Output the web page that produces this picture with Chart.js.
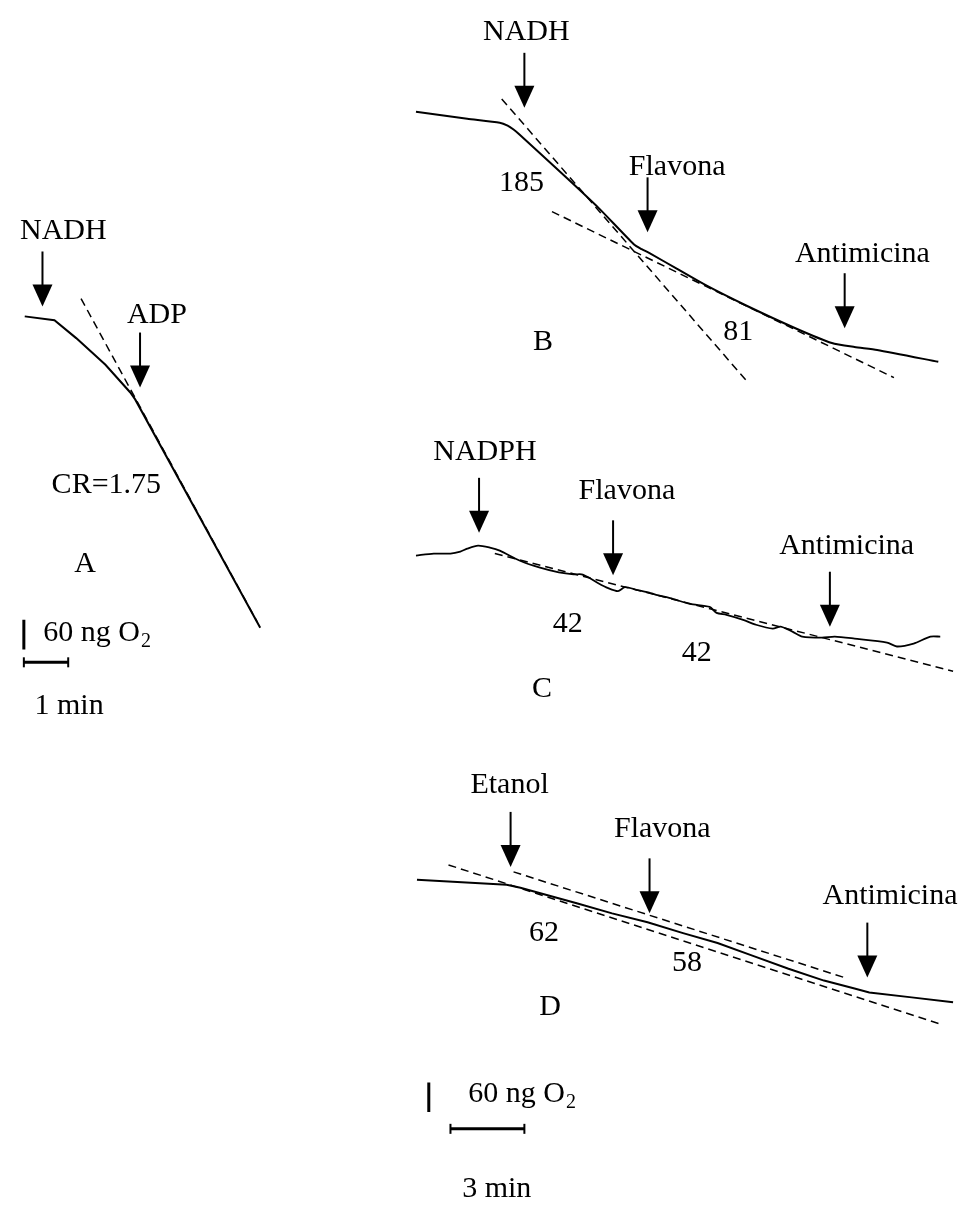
<!DOCTYPE html>
<html>
<head>
  <title>Consumo de O2 - trazos A a D</title>
  <script src="https://cdn.jsdelivr.net/npm/chart.js"></script>
  <style>
    body { margin: 0; background: #fff; overflow: hidden; }
  </style>
</head>
<body>
  <canvas id="myChart" width="965" height="1207"></canvas>

  <script>
    // All traces: [time (min), O2 level (ng O2, relative to start of trace)]

    // Panel A
    const traceA = [[0,0],[0.67,-8],[1.16,-44],[1.82,-98],[2.38,-154],[2.49,-168],[5.31,-630]];
    const dashA = [[1.27,36],[5.24,-618]];
    const arrowsA = [[0.40,20],[2.60,-144]];
    const labelsA = [['NADH',0.87,156],['ADP',2.98,-14],['CR=1.75',1.84,-358],['A',1.36,-518],['1 min',1.00,-804]];
    const barO2A = [[-0.02,-614],[-0.02,-674]];   // 60 ng O2
    const barTimeA = [[-0.02,-700],[0.98,-700]];  // 1 min

    // Panel B
    const traceB = [[0,0],[2.08,-14],[3.40,-22],[3.72,-28],[3.96,-36],[4.20,-46],[6.08,-132],[7.40,-194],
      [8.84,-268],[9.16,-278],[9.48,-286],[10.60,-318],[11.80,-352],[13.40,-392],[15.40,-438],
      [16.88,-468],[17.80,-476],[18.72,-482],[21.20,-506]];
    const dashB1 = [[3.48,26],[13.48,-548]];
    const dashB2 = [[5.52,-202],[19.40,-538]];
    const arrowsB = [[4.40,8],[9.40,-244],[17.40,-438]];
    const labelsB = [['NADH',4.48,146],['185',4.28,-160],['Flavona',10.6,-128],['Antimicina',18.12,-304],['81',13.08,-462],['B',5.16,-482]];

    // Panel C
    const traceC = [[0,0],[0.72,4],[1.40,4],[1.80,8],[2.08,14],[2.52,20],[3.00,16],[3.40,10],[4.20,-10],
      [5.00,-24],[5.80,-34],[6.40,-38],[6.72,-38],[7.00,-44],[7.40,-56],[7.80,-66],[8.20,-72],[8.48,-64],
      [9.00,-70],[9.52,-76],[9.80,-80],[10.32,-86],[11.12,-98],[11.92,-104],[12.20,-116],[12.60,-120],
      [13.28,-130],[13.80,-140],[14.48,-148],[14.80,-144],[15.28,-154],[15.68,-164],[16.48,-166],
      [17.00,-164],[17.80,-168],[19.12,-176],[19.52,-184],[20.20,-178],[20.88,-164],[21.28,-164]];
    const dashC = [[3.20,4],[21.80,-234]];
    const arrowsC = [[2.56,46],[8.00,-40],[16.80,-144]];
    const labelsC = [['NADPH',2.80,194],['Flavona',8.56,114],['Antimicina',17.48,4],['42',6.16,-154],['42',11.40,-214],['C',5.12,-286]];

    // Panel D
    const traceD = [[0,0],[3.64,-10],[4.20,-16],[6.52,-48],[7.92,-68],[9.36,-86],[10.80,-108],[12.20,-128],
      [13.64,-154],[15.08,-180],[16.52,-204],[17.76,-220],[18.36,-228],[20.08,-238],[21.76,-248]];
    const dashD1 = [[1.28,30],[21.36,-294]];
    const dashD2 = [[3.92,16],[17.36,-198]];
    const arrowsD = [[3.80,26],[9.44,-68],[18.28,-198]];
    const labelsD = [['Etanol',3.76,176],['Flavona',9.96,86],['Antimicina',19.20,-50],['62',5.16,-124],['58',10.96,-184],['D',5.40,-274],['3 min',3.24,-642]];
    const barO2D = [[0.48,-410],[0.48,-470]];     // 60 ng O2
    const barTimeD = [[1.36,-504],[4.36,-504]];   // 3 min

    // "60 ng O2" captions next to each vertical bar: [panel, t, v]
    const o2Captions = [['A',0.42,-656],['D',2.08,-450]];

    // Page layout of each panel (pixel of trace start, pixels per min, pixels per ng)
    const W = 965, H = 1207;
    const panels = {
      A: { left: 18, top: 313, pxPerMin: 45, pxPerNg: 0.5 },
      B: { left: 415, top: 106, pxPerMin: 25, pxPerNg: 0.5 },
      C: { left: 415, top: 555, pxPerMin: 25, pxPerNg: 0.5 },
      D: { left: 416, top: 883, pxPerMin: 25, pxPerNg: 0.5 }
    };

    const scales = { x: { type: 'linear', display: false }, y: { type: 'linear', display: false } };
    for (const [id, p] of Object.entries(panels)) {
      scales['x' + id] = { type: 'linear', display: false, min: -p.left / p.pxPerMin, max: (W - p.left) / p.pxPerMin };
      scales['y' + id] = { type: 'linear', display: false, min: (p.top - H) / p.pxPerNg, max: p.top / p.pxPerNg };
    }

    function line(id, pts, extra) {
      return Object.assign({
        data: pts.map(p => ({ x: p[0], y: p[1] })),
        xAxisID: 'x' + id,
        yAxisID: 'y' + id,
        showLine: true,
        pointRadius: 0,
        borderColor: '#000',
        borderWidth: 2,
        tension: 0
      }, extra || {});
    }
    const dashed = { borderWidth: 1.5, borderDash: [8, 5] };
    const timeBar = { borderWidth: 3, pointStyle: 'line', pointRotation: 90, pointRadius: 5, pointBorderWidth: 2 };

    const datasets = [
      line('A', traceA),
      line('A', dashA, dashed),
      line('A', barO2A, { borderWidth: 3 }),
      line('A', barTimeA, timeBar),
      line('B', traceB, { tension: 0.2 }),
      line('B', dashB1, dashed),
      line('B', dashB2, dashed),
      line('C', traceC, { tension: 0.25, borderWidth: 1.8 }),
      line('C', dashC, dashed),
      line('D', traceD),
      line('D', dashD1, dashed),
      line('D', dashD2, dashed),
      line('D', barO2D, { borderWidth: 3 }),
      line('D', barTimeD, timeBar)
    ];

    const FONT = '30px "Liberation Serif", "Times New Roman", serif';

    // arrows for additions and the text labels, placed through the panel scales
    const annotations = {
      id: 'annotations',
      afterDatasetsDraw(chart) {
        const ctx = chart.ctx;
        const groups = { A: [arrowsA, labelsA], B: [arrowsB, labelsB], C: [arrowsC, labelsC], D: [arrowsD, labelsD] };
        ctx.save();
        ctx.fillStyle = '#000';
        ctx.strokeStyle = '#000';
        for (const [id, g] of Object.entries(groups)) {
          const sx = chart.scales['x' + id], sy = chart.scales['y' + id];
          g[0].forEach(a => {
            const x = sx.getPixelForValue(a[0]);
            const y = sy.getPixelForValue(a[1]);
            ctx.lineWidth = 2;
            ctx.beginPath();
            ctx.moveTo(x, y - 55);
            ctx.lineTo(x, y - 18);
            ctx.stroke();
            ctx.beginPath();
            ctx.moveTo(x - 10, y - 22);
            ctx.lineTo(x + 10, y - 22);
            ctx.lineTo(x, y);
            ctx.closePath();
            ctx.fill();
          });
          ctx.font = FONT;
          ctx.textAlign = 'center';
          ctx.textBaseline = 'alphabetic';
          g[1].forEach(l => {
            ctx.fillText(l[0], sx.getPixelForValue(l[1]), sy.getPixelForValue(l[2]));
          });
        }
        o2Captions.forEach(c => {
          const x = chart.scales['x' + c[0]].getPixelForValue(c[1]);
          const y = chart.scales['y' + c[0]].getPixelForValue(c[2]);
          ctx.font = FONT;
          ctx.textAlign = 'left';
          ctx.fillText('60 ng O', x, y);
          const w = ctx.measureText('60 ng O').width;
          ctx.font = '20px "Liberation Serif", serif';
          ctx.fillText('2', x + w + 1, y + 6);
        });
        ctx.restore();
      }
    };

    const ctx = document.getElementById('myChart').getContext('2d');
    const myChart = new Chart(ctx, {
      type: 'scatter',
      data: { datasets: datasets },
      options: {
        responsive: false,
        animation: false,
        layout: { padding: 0 },
        scales: scales,
        plugins: { legend: { display: false }, tooltip: { enabled: false } }
      },
      plugins: [annotations]
    });
  </script>
</body>
</html>
